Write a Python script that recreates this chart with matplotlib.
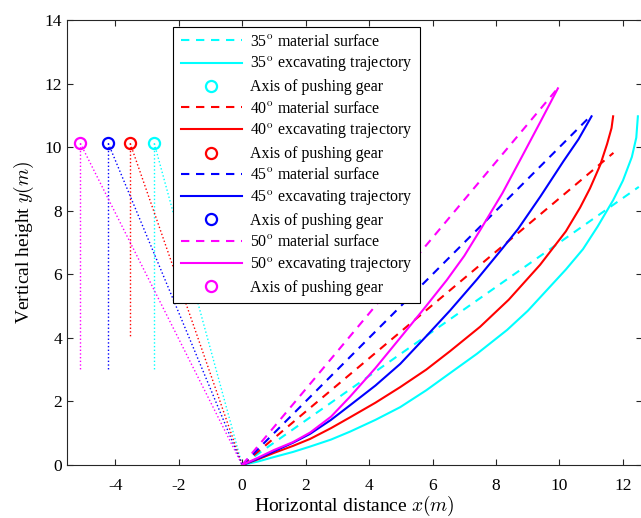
import matplotlib
matplotlib.use("Agg")
import matplotlib.pyplot as plt

# ----------------------------- DATA -----------------------------

angles = [35, 40, 45, 50]
colors = ["cyan", "red", "blue", "magenta"]

# material surface end points (straight lines from origin)
surface_x = [12.5, 11.7, 10.95, 9.9]
surface_y = [8.75, 9.82, 10.95, 11.8]

# excavating trajectories
traj_35_x = [0, 0.5, 1.0, 1.6, 2.14, 2.8, 3.4, 4.2, 4.98, 5.8, 6.55, 7.4, 8.35,
             9.0, 9.6, 10.2, 10.74, 11.2, 11.69, 12.0, 12.28, 12.42, 12.47]
traj_35_y = [0, 0.11, 0.25, 0.41, 0.58, 0.8, 1.05, 1.42, 1.82, 2.35, 2.89, 3.5, 4.25,
             4.85, 5.5, 6.15, 6.79, 7.5, 8.33, 8.95, 9.69, 10.3, 10.97]
traj_40_x = [0, 0.5, 1.0, 1.6, 2.14, 2.8, 3.4, 4.2, 4.98, 5.8, 6.55, 7.5, 8.4,
             9.39, 10.2, 10.65, 10.96, 11.28, 11.5, 11.64, 11.69]
traj_40_y = [0, 0.18, 0.38, 0.6, 0.82, 1.16, 1.5, 1.96, 2.45, 3.0, 3.58, 4.35, 5.2,
             6.3, 7.35, 8.1, 8.7, 9.43, 10.1, 10.6, 10.97]
traj_45_x = [0, 0.5, 1.0, 1.6, 2.14, 2.8, 3.4, 4.2, 4.98, 5.8, 6.55, 7.4, 8.19,
             8.69, 9.4, 10.12, 10.6, 11.01]
traj_45_y = [0, 0.2, 0.43, 0.7, 0.98, 1.42, 1.88, 2.5, 3.18, 4.05, 4.86, 5.84, 6.8,
             7.42, 8.45, 9.55, 10.25, 10.97]
traj_50_x = [0, 0.5, 1.0, 1.6, 2.14, 2.8, 3.4, 4.2, 4.98, 5.7, 6.45, 7.0, 7.5,
             8.2, 8.81, 9.4, 9.95]
traj_50_y = [0, 0.23, 0.47, 0.72, 1.02, 1.52, 2.15, 3.05, 4.0, 4.88, 5.82, 6.58, 7.39,
             8.55, 9.69, 10.8, 11.85]
traj_x = [traj_35_x, traj_40_x, traj_45_x, traj_50_x]
traj_y = [traj_35_y, traj_40_y, traj_45_y, traj_50_y]

# axis of pushing gear and the bottom of its vertical dotted line
gear_x = [-2.77, -3.53, -4.22, -5.1]
gear_y = [10.12, 10.12, 10.12, 10.12]
gear_drop = [3.0, 4.0, 3.0, 3.0]

# ----------------------------- STYLE -----------------------------

plt.rcParams["font.family"] = ["Liberation Serif", "DejaVu Serif"]
plt.rcParams["mathtext.fontset"] = "cm"
plt.rcParams["axes.unicode_minus"] = False

fig = plt.figure(figsize=(6.41, 5.18), dpi=100)
ax = fig.add_axes([67 / 641, 53 / 518, 575 / 641, 445 / 518])

# ----------------------------- PLOT -----------------------------

for i, a in enumerate(angles):
    c = colors[i]
    ax.plot([0, surface_x[i]], [0, surface_y[i]], "--", color=c, lw=1.5,
            dashes=(4, 3.2), label=r"%d$^{\rm o}$ material surface" % a)
    ax.plot(traj_x[i], traj_y[i], "-", color=c, lw=1.5,
            label=r"%d$^{\rm o}$ excavating trajectory" % a)
    ax.plot(gear_x[i], gear_y[i], "o", color=c, ms=8, mfc="none", mew=1.6,
            linestyle="none", label="Axis of pushing gear")
    # dotted guide lines from the gear axis
    ax.plot([gear_x[i], 0], [gear_y[i], 0], ":", color=c, lw=1.0)
    ax.plot([gear_x[i], gear_x[i]], [gear_y[i], gear_drop[i]], ":", color=c, lw=1.0)

ax.set_xlim(-5.52, 12.6)
ax.set_ylim(0, 14)
ax.set_xticks(range(-4, 13, 2))
ax.set_yticks(range(0, 15, 2))
ax.tick_params(direction="in", top=True, right=True, labelsize=12.5,
               colors="#262626", labelcolor="black", length=4)
ax.tick_params(axis="x", pad=9)
for s in ax.spines.values():
    s.set_color("#262626")
    s.set_linewidth(0.8)

ax.set_xlabel(r"Horizontal distance $x(m)$", fontsize=14, labelpad=0)
ax.set_ylabel(r"Vertical height $y(m)$", fontsize=14, labelpad=6)

leg = ax.legend(loc="upper left", bbox_to_anchor=(0.185, 0.985), fontsize=11.4,
                handlelength=3.9, handletextpad=0.5, labelspacing=0.33,
                borderpad=0.45, borderaxespad=0, fancybox=False, framealpha=1,
                edgecolor="black")
leg.get_frame().set_linewidth(0.8)

fig.savefig("out.png", dpi=100)
